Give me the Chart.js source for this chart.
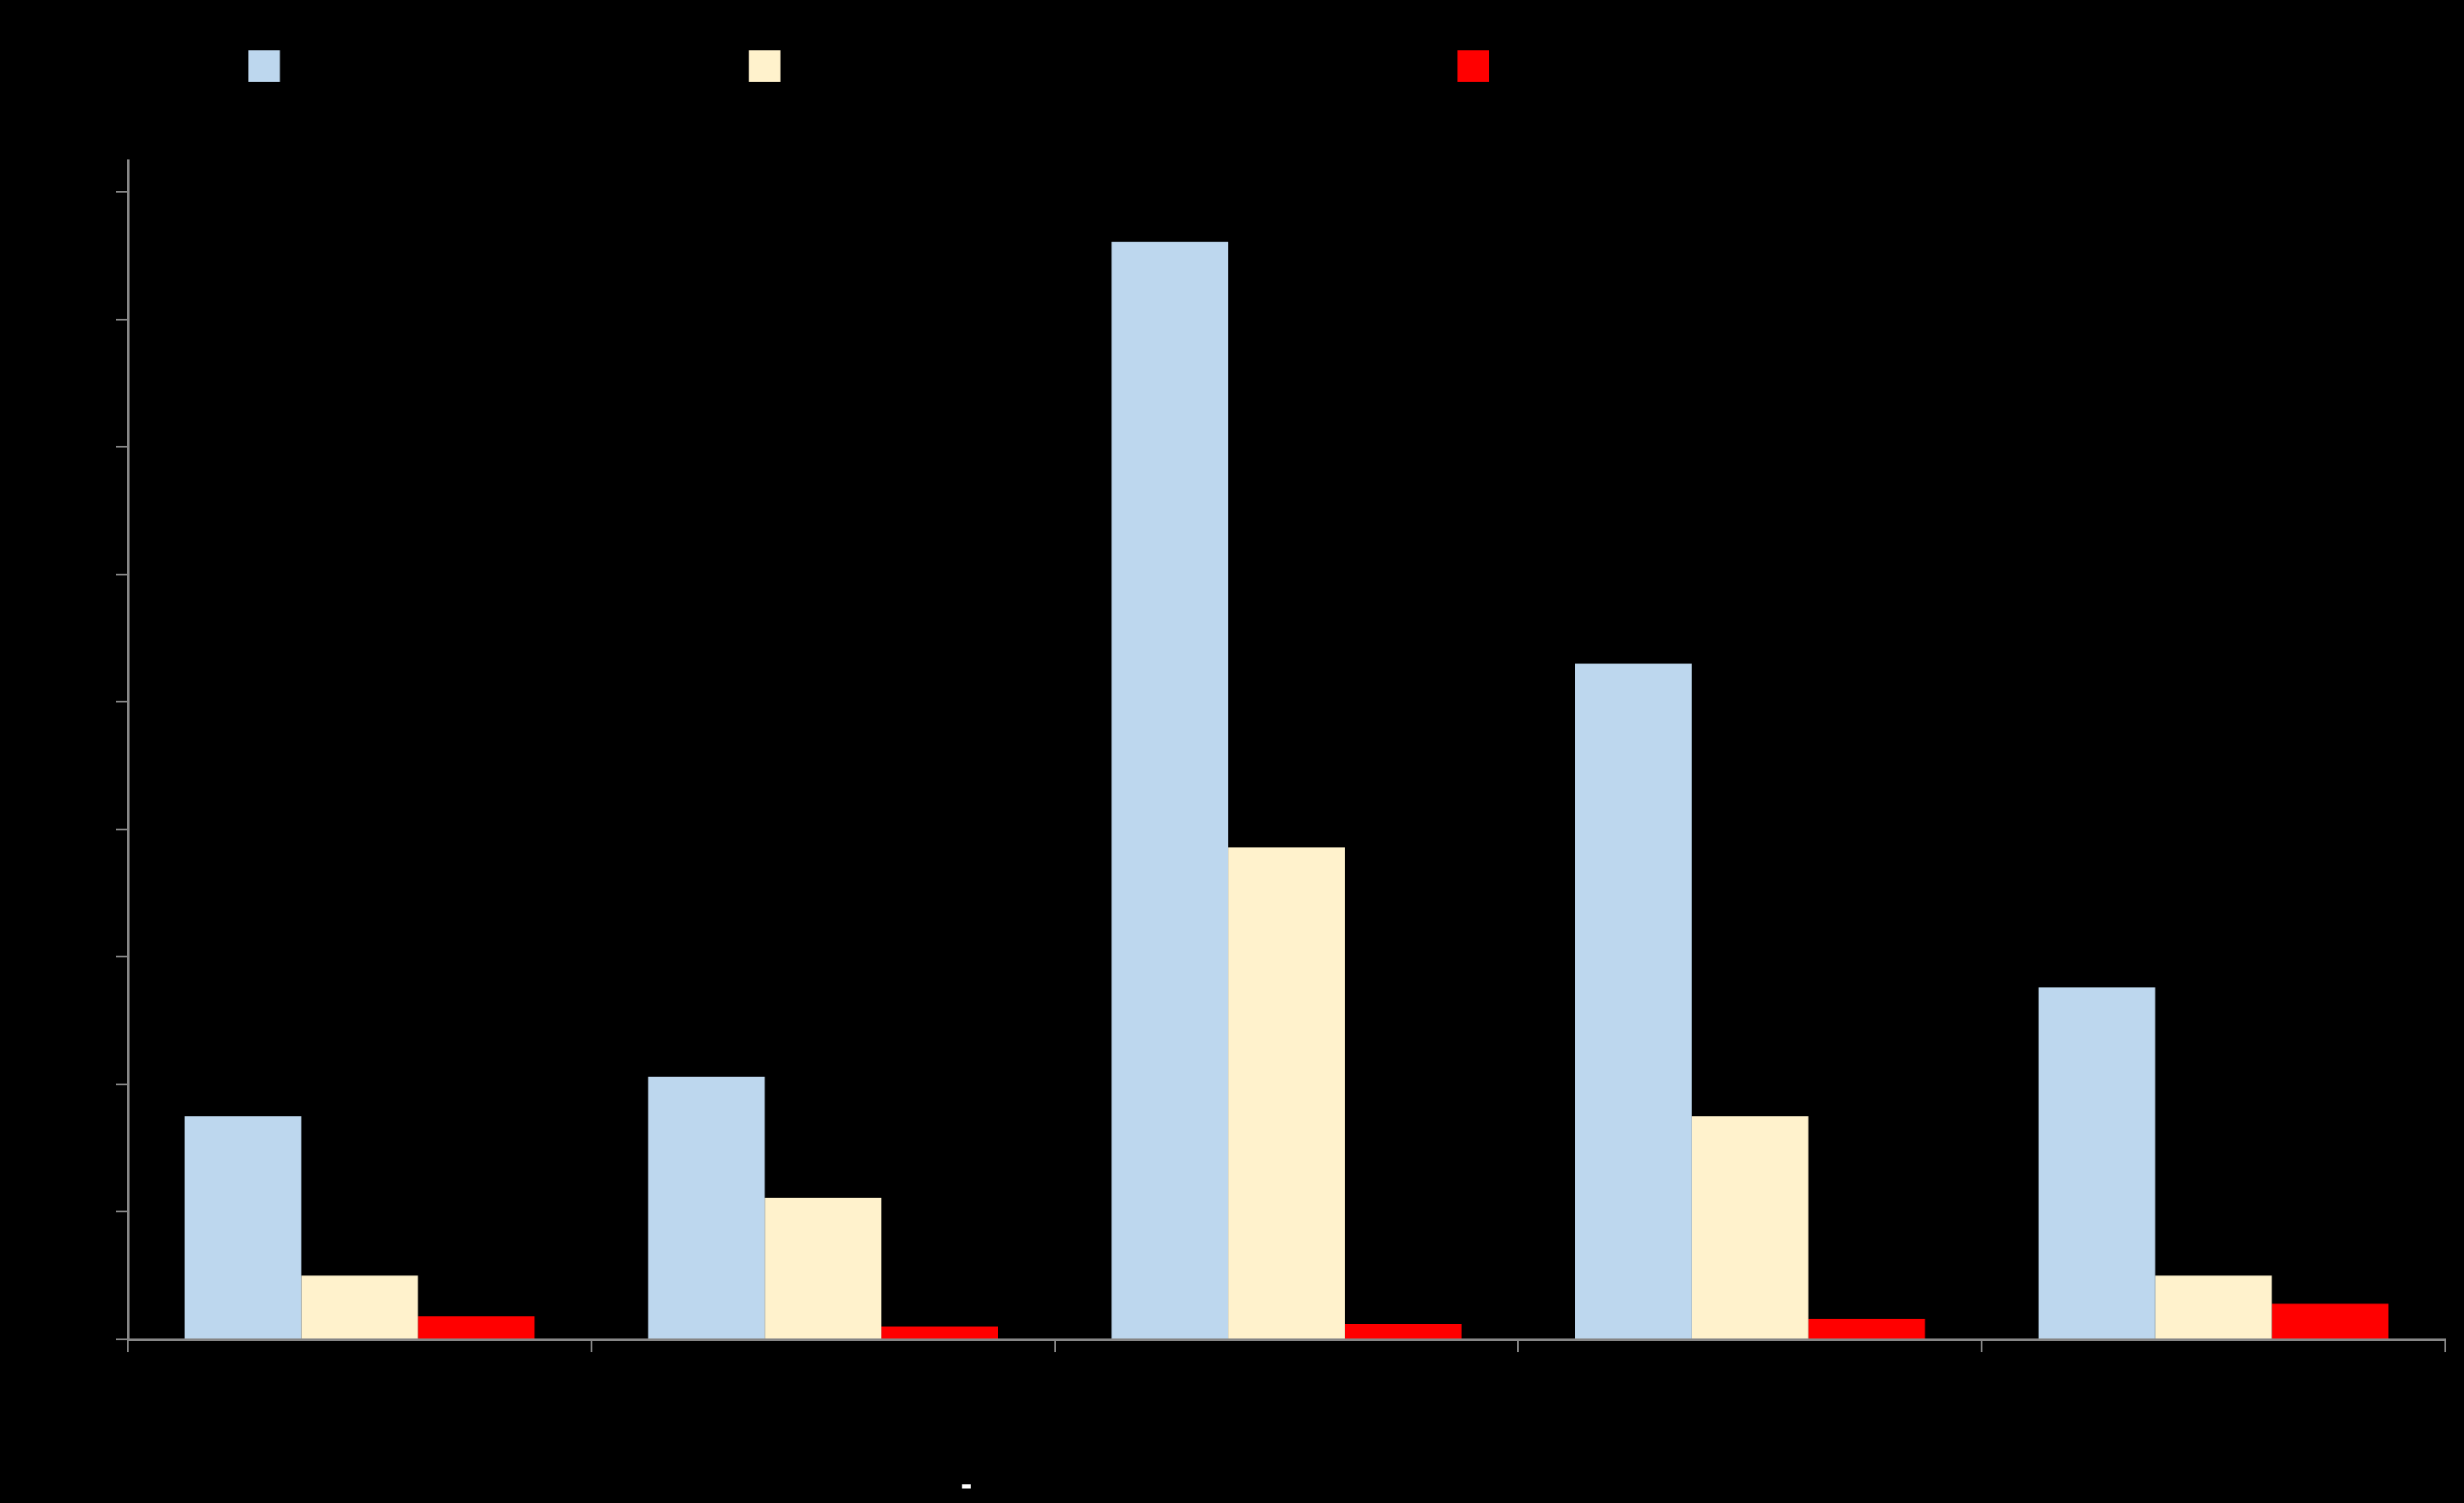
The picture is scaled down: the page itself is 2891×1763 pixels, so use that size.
<!DOCTYPE html>
<html>
<head>
<meta charset="utf-8">
<script src="https://cdn.jsdelivr.net/npm/chart.js@4/dist/chart.umd.min.js"></script>
<style>
    html, body { margin: 0; padding: 0; background: #000000; }
    #wrap { width: 2891px; height: 1763px; }
</style>
</head>
<body>
<div id="wrap"><canvas id="chart" width="2891" height="1763"></canvas></div>
<script>
const categories = ["Category 1", "Category 2", "Category 3", "Category 4", "Category 5"];
const seriesNames = [
    "Number of applications reviewed",
    "Number of applications accepted for final review",
    "Number of applications approved and funded in full"
];
const seriesA = [1.75, 2.06, 8.61, 5.30, 2.76];
const seriesB = [0.50, 1.11, 3.86, 1.75, 0.50];
const seriesC = [0.18, 0.10, 0.12, 0.16, 0.28];
const yTicks = [0, 1, 2, 3, 4, 5, 6, 7, 8, 9];
const axisTitle = "-";

const axisGray = "#868686";

// space under the legend, like the original layout
const legendGap = {
    id: "legendGap",
    beforeInit(chart) {
        const fit = chart.legend.fit;
        chart.legend.fit = function () {
            fit.bind(chart.legend)();
            this.height += 82;
        };
    }
};

// the only visible piece of the x axis title
const axisTitlePlugin = {
    id: "axisTitlePlugin",
    afterDraw(chart) {
        const ctx = chart.ctx;
        ctx.save();
        ctx.fillStyle = "#ffffff";
        ctx.font = "bold 40px 'Liberation Sans'";
        ctx.textAlign = "center";
        ctx.textBaseline = "alphabetic";
        ctx.fillText(axisTitle, 1134, 1754);
        ctx.restore();
    }
};

new Chart(document.getElementById("chart"), {
    type: "bar",
    data: {
        labels: categories,
        datasets: [
            { label: seriesNames[0], data: seriesA, backgroundColor: "#BDD7EE" },
            { label: seriesNames[1], data: seriesB, backgroundColor: "#FFF2CC" },
            { label: seriesNames[2], data: seriesC, backgroundColor: "#FF0000" }
        ]
    },
    options: {
        responsive: false,
        animation: false,
        devicePixelRatio: 1,
        layout: { padding: { top: 49, right: 22, left: 0, bottom: 0 } },
        datasets: {
            bar: { categoryPercentage: 0.755, barPercentage: 1.0, borderWidth: 0 }
        },
        plugins: {
            legend: {
                position: "top",
                labels: {
                    color: "#000000",
                    font: { family: "'Liberation Sans'", size: 36 },
                    boxWidth: 37,
                    boxHeight: 37,
                    padding: 10
                }
            },
            tooltip: { enabled: false }
        },
        scales: {
            x: {
                grid: {
                    display: true,
                    drawOnChartArea: false,
                    drawTicks: true,
                    tickLength: 15,
                    color: axisGray,
                    lineWidth: 2,
                    offset: true
                },
                border: { display: true, color: axisGray, width: 3 },
                ticks: { color: "#000000", font: { family: "'Liberation Sans'", size: 36 } },
                afterFit(scale) { scale.height = 192; }
            },
            y: {
                min: 0,
                max: 9.25,
                grid: {
                    display: true,
                    drawOnChartArea: false,
                    drawTicks: true,
                    tickLength: 14,
                    color: axisGray,
                    lineWidth: 2
                },
                border: { display: true, color: axisGray, width: 3 },
                ticks: {
                    stepSize: 1,
                    color: "#000000",
                    font: { family: "'Liberation Sans'", size: 36 }
                },
                afterBuildTicks(scale) {
                    scale.ticks = yTicks.map(v => ({ value: v }));
                },
                afterFit(scale) { scale.width = 150; }
            }
        }
    },
    plugins: [legendGap, axisTitlePlugin]
});
</script>
</body>
</html>
